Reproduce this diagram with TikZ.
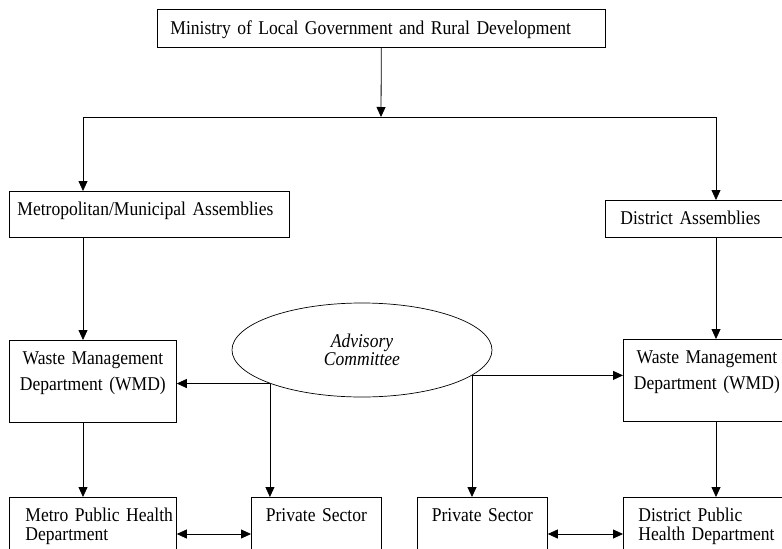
\documentclass[tikz,border=0pt]{standalone}
\usepackage{fontspec}
\setmainfont{Liberation Serif}[FakeStretch=0.9, WordSpace=0.75]
\usetikzlibrary{arrows.meta,shapes.geometric}

\begin{document}
\begin{tikzpicture}[
  x=1pt, y=-1pt,
  box/.style={draw, line width=0.8pt, anchor=north west, text height=14pt,
    font=\fontsize{19.5}{25.6}\selectfont},
  lowbox/.style={box, inner ysep=10.5pt, text depth=45pt,
    font=\fontsize{19.5}{18.5}\selectfont},
  arrow/.style={-{Triangle[length=10pt,width=9pt]}, line width=0.8pt},
  dblarrow/.style={{Triangle[length=10pt,width=9pt]}-{Triangle[length=10pt,width=9pt]}, line width=0.8pt}
]
  \useasboundingbox (0,0) rectangle (782,549);
  \clip (0,0) rectangle (782,549);
  \fill[white] (0,0) rectangle (782,549);

  % top and assemblies
  \node[box, inner xsep=13pt, inner ysep=11.5pt, text width=422pt, text depth=1pt, align=left] (ministry) at (157,9) {Ministry of Local Government and Rural Development};
  \node[box, inner xsep=8pt, inner ysep=10pt, text width=264pt, text depth=12pt, align=left] (metroasm) at (9,191) {Metropolitan/Municipal Assemblies};
  \node[box, inner xsep=15pt, inner ysep=10pt, text width=165pt, text depth=3pt, align=left] (distasm) at (605,200) {District Assemblies};

  % waste management departments
  \node[box, inner xsep=4pt, inner ysep=10.5pt, text width=159pt, text depth=47pt, align=center] (wmdL) at (9,340) {Waste Management\\Department (WMD)};
  \node[box, inner xsep=4pt, inner ysep=10.5pt, text width=159pt, text depth=47pt, align=center] (wmdR) at (623,339) {Waste Management\\Department (WMD)};

  \node[ellipse, draw, line width=0.7pt, minimum width=260pt, minimum height=94pt, inner sep=0pt,
    align=center, font=\itshape\fontsize{19.5}{18.5}\selectfont] (advisory) at (362,350) {Advisory\\Committee};

  % bottom row
  \node[lowbox, inner xsep=4pt, text width=159pt, align=left] (healthL) at (9,497) {\hspace*{12pt}\mbox{Metro Public Health}\\\hspace*{12pt}Department};
  \node[lowbox, inner xsep=4pt, text width=122pt, align=center] (privL) at (251,497) {Private Sector};
  \node[lowbox, inner xsep=4pt, text width=122pt, align=center] (privR) at (417,497) {Private Sector};
  \node[lowbox, inner xsep=4pt, text width=159pt, align=left] (healthR) at (623,497) {\hspace*{11pt}\mbox{District Public}\\\hspace*{11pt}\mbox{Health Department}};

  \coordinate (split) at (381,117);
  \coordinate (colL) at (83,0);
  \coordinate (colR) at (716,0);

  \draw[arrow] (ministry) -- (split);
  \draw[arrow] (split) -| (metroasm.north -| colL);
  \draw[arrow] (split) -| (distasm.north -| colR);
  \draw[arrow] (metroasm.south -| colL) -- (wmdL.north -| colL);
  \draw[arrow] (distasm.south -| colR) -- (wmdR.north -| colR);
  \draw[arrow] (wmdL.south -| colL) -- (healthL.north -| colL);
  \draw[arrow] (wmdR.south -| colR) -- (healthR.north -| colR);

  \draw[arrow] (advisory.200) -- (advisory.200 -| wmdL.east);
  \draw[arrow] (advisory.200) -- (advisory.200 |- privL.north);
  \draw[arrow] (advisory.-13) -- (advisory.-13 -| wmdR.west);
  \draw[arrow] (advisory.-13) -- (advisory.-13 |- privR.north);

  \draw[dblarrow] ([yshift=-37pt]healthL.north east) -- ([yshift=-37pt]privL.north west);
  \draw[dblarrow] ([yshift=-37pt]privR.north east) -- ([yshift=-37pt]healthR.north west);
\end{tikzpicture}
\end{document}
